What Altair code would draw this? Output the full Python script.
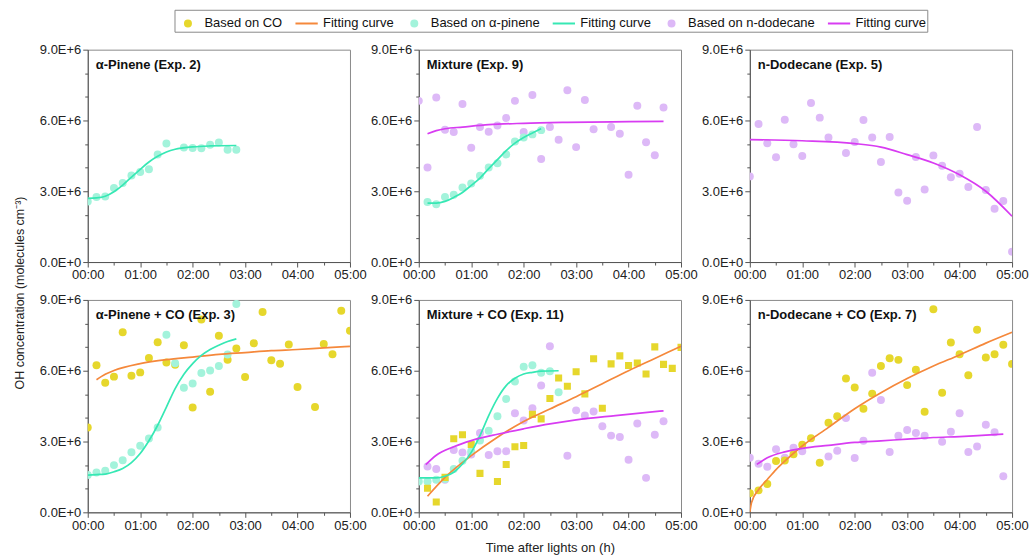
import altair as alt
import pandas as pd

FONT = "Liberation Sans, Arial, sans-serif"

# ---------------- colours ----------------
C_CO_PT, C_CO_LN = "#E6D72C", "#F5883B"
C_AP_PT, C_AP_LN = "#A3F3DB", "#36E8B4"
C_DD_PT, C_DD_LN = "#DDB9F7", "#D83CF2"

# ---------------- axes ----------------
X_TICKS = [0, 0.5, 1, 1.5, 2, 2.5, 3, 3.5, 4, 4.5, 5]
Y_TICKS = [0, 1e6, 2e6, 3e6, 4e6, 5e6, 6e6, 7e6, 8e6, 9e6]

# ---------------- Panel 1: alpha-Pinene (Exp. 2) ----------------
p1_ap_t = [0, 10, 20, 30, 40, 50, 60, 70, 80, 90, 110, 120, 130, 140, 150, 160, 170]
p1_ap_v = [2.57, 2.76, 2.78, 3.14, 3.35, 3.67, 3.82, 3.93, 4.56, 5.02, 4.85, 4.83, 4.82, 4.97, 5.07, 4.76, 4.76]
p1_apfit_t = [0, 10, 20, 30, 40, 50, 60, 70, 80, 90, 100, 120, 140, 170]
p1_apfit_v = [2.70, 2.72, 2.79, 2.98, 3.26, 3.60, 3.93, 4.24, 4.48, 4.66, 4.78, 4.88, 4.92, 4.94]

# ---------------- Panel 2: Mixture (Exp. 9) ----------------
p2_dd_t = [0, 10, 20, 30, 40, 50, 60, 70, 80, 90, 100, 110, 120, 130, 140, 150, 160, 170, 180, 190, 200,
           220, 230, 240, 250, 260, 270, 280]
p2_dd_v = [6.83, 4.01, 6.97, 5.61, 5.51, 6.70, 4.84, 5.72, 5.52, 5.79, 6.10, 6.83, 5.51, 7.08, 4.37, 5.72,
           5.18, 7.28, 4.87, 6.87, 5.63, 5.72, 5.44, 3.70, 6.62, 5.08, 4.53, 6.55]
p2_ap_t = [10, 20, 30, 40, 50, 60, 70, 80, 90, 100, 110, 120, 130, 140]
p2_ap_v = [2.54, 2.45, 2.76, 2.85, 3.16, 3.33, 3.66, 4.01, 4.19, 4.56, 5.11, 5.28, 5.41, 5.59]
p2_apfit_t = [10, 20, 30, 40, 50, 60, 70, 80, 90, 100, 110, 120, 130, 140]
p2_apfit_v = [2.50, 2.50, 2.57, 2.74, 2.95, 3.25, 3.56, 3.96, 4.34, 4.72, 5.04, 5.28, 5.47, 5.65]
p2_ddfit_t = [10, 20, 30, 50, 80, 120, 170, 240, 280]
p2_ddfit_v = [5.44, 5.57, 5.65, 5.72, 5.82, 5.88, 5.92, 5.95, 5.96]

# ---------------- Panel 3: n-Dodecane (Exp. 5) ----------------
p3_dd_t = [0, 10, 20, 30, 40, 50, 60, 70, 80, 90, 110, 120, 130, 140, 150, 160, 170, 180, 190, 200,
           210, 220, 230, 240, 250, 260, 270, 280, 290, 300]
p3_dd_v = [3.63, 5.85, 5.03, 4.44, 6.03, 4.99, 4.49, 6.74, 6.12, 5.28, 4.62, 5.09, 6.02, 5.28, 4.24,
           5.30, 2.95, 2.60, 4.45, 3.07, 4.52, 4.08, 3.59, 3.74, 3.18, 5.72, 3.05, 2.26, 2.59, 0.44]
p3_ddfit_t = [0, 60, 120, 150, 180, 210, 240, 270, 300]
p3_ddfit_v = [5.19, 5.14, 5.02, 4.87, 4.55, 4.20, 3.70, 3.00, 1.94]

# ---------------- Panel 4: alpha-Pinene + CO (Exp. 3) ----------------
p4_co_t = [0, 10, 20, 30, 40, 50, 60, 70, 80, 90, 100, 110, 120, 130, 140, 150, 160, 170, 180, 190,
           200, 210, 220, 230, 240, 260, 270, 280, 290, 300]
p4_co_v = [3.59, 6.23, 5.49, 5.75, 7.63, 5.79, 5.93, 6.54, 7.21, 6.35, 6.25, 7.08, 4.44, 8.17, 5.11,
           7.48, 6.47, 6.94, 5.73, 7.16, 8.49, 6.44, 6.30, 7.11, 5.31, 4.46, 7.13, 6.70, 8.54, 7.69]
p4_ap_t = [0, 10, 20, 30, 40, 50, 60, 70, 80, 90, 100, 110, 120, 130, 140, 150, 160, 170]
p4_ap_v = [1.58, 1.69, 1.76, 2.00, 2.21, 2.55, 2.82, 3.13, 3.59, 7.52, 6.32, 5.28, 5.46, 5.90, 6.01,
           6.20, 6.69, 8.83]
p4_cofit_t = [10, 20, 30, 60, 90, 120, 150, 180, 210, 240, 270, 300]
p4_cofit_v = [5.62, 5.85, 6.01, 6.30, 6.47, 6.58, 6.69, 6.77, 6.85, 6.90, 6.97, 7.03]
p4_apfit_t = [0, 10, 20, 30, 40, 50, 60, 70, 80, 90, 100, 110, 120, 130, 140, 150, 160, 170]
p4_apfit_v = [1.58, 1.60, 1.62, 1.72, 1.86, 2.11, 2.49, 3.03, 3.69, 4.46, 5.24, 5.85, 6.30, 6.65, 6.90,
              7.08, 7.24, 7.35]

# ---------------- Panel 5: Mixture + CO (Exp. 11) ----------------
p5_co_t = [10, 20, 30, 40, 50, 60, 70, 90, 100, 110, 120, 130, 140, 150, 160, 170, 180, 190, 200, 210,
           220, 230, 240, 250, 260, 270, 280, 290, 300]
p5_co_v = [1.02, 0.44, 1.48, 3.12, 3.29, 2.87, 1.65, 1.31, 2.03, 2.78, 2.83, 4.15, 3.96, 4.82, 5.69,
           5.34, 5.96, 5.02, 6.51, 4.41, 6.29, 6.63, 6.22, 6.33, 5.86, 7.01, 6.27, 6.10, 6.99]
p5_dd_t = [10, 20, 30, 40, 50, 60, 70, 80, 90, 100, 110, 120, 130, 140, 150, 170, 180, 190, 200, 210,
           220, 230, 240, 250, 260, 270, 280]
p5_dd_v = [1.94, 1.84, 1.38, 2.64, 2.54, 2.45, 3.36, 2.43, 2.59, 2.59, 4.20, 3.89, 4.41, 5.37, 7.04,
           2.40, 4.32, 4.10, 4.27, 3.65, 3.25, 3.19, 2.23, 3.76, 1.46, 3.29, 3.86]
p5_ap_t = [0, 10, 20, 30, 40, 50, 60, 70, 80, 90, 100, 110, 120, 130, 140, 150, 160]
p5_ap_v = [1.31, 1.31, 1.38, 1.41, 1.84, 2.19, 2.59, 3.04, 3.46, 4.07, 4.80, 5.54, 6.17, 6.23, 5.91,
           5.98, 5.09]
p5_cofit_t = [10, 30, 60, 90, 120, 150, 180, 210, 240, 270, 300]
p5_cofit_v = [0.68, 1.48, 2.40, 3.18, 3.85, 4.38, 4.90, 5.45, 6.00, 6.52, 7.04]
p5_apfit_t = [0, 10, 20, 30, 40, 50, 60, 70, 80, 90, 100, 110, 120, 130, 140, 160]
p5_apfit_v = [1.46, 1.46, 1.46, 1.53, 1.70, 2.05, 2.54, 3.25, 4.10, 4.83, 5.37, 5.68, 5.86, 5.93, 5.98, 6.00]
p5_ddfit_t = [8, 20, 40, 60, 90, 120, 150, 180, 225, 280]
p5_ddfit_v = [2.02, 2.42, 2.78, 3.04, 3.31, 3.54, 3.75, 3.92, 4.10, 4.30]

# ---------------- Panel 6: n-Dodecane + CO (Exp. 7) ----------------
p6_co_t = [0, 10, 20, 30, 40, 50, 60, 70, 80, 90, 100, 110, 120, 130, 140, 150, 160, 170, 180, 190,
           200, 210, 220, 230, 240, 250, 260, 270, 280, 290, 300]
p6_co_v = [0.81, 0.93, 1.20, 2.17, 2.20, 2.46, 2.86, 3.14, 2.10, 3.80, 4.07, 5.67, 5.29, 4.39, 5.03,
           6.20, 6.53, 6.46, 5.39, 6.04, 4.26, 8.61, 5.07, 7.20, 6.70, 5.81, 7.74, 6.56, 6.70, 7.10, 6.29]
p6_dd_t = [0, 10, 20, 30, 40, 50, 60, 90, 100, 110, 120, 130, 140, 150, 160, 170, 180, 190, 200, 220,
           230, 240, 250, 260, 270, 280, 290]
p6_dd_v = [2.31, 2.06, 1.93, 2.67, 2.31, 2.74, 2.59, 2.37, 2.61, 4.00, 2.30, 3.03, 5.91, 4.76, 2.56,
           3.24, 3.49, 3.36, 3.24, 2.99, 3.41, 4.20, 2.56, 2.79, 3.71, 3.39, 1.53]
p6_cofit_t = [0, 2, 10, 20, 30, 40, 60, 90, 120, 150, 180, 210, 240, 270, 300]
p6_cofit_v = [0.0, 0.42, 0.96, 1.39, 1.81, 2.17, 2.81, 3.60, 4.39, 5.07, 5.67, 6.20, 6.67, 7.17, 7.63]
p6_ddfit_t = [8, 20, 40, 60, 90, 120, 150, 180, 210, 240, 270, 290]
p6_ddfit_v = [2.03, 2.31, 2.56, 2.71, 2.84, 2.96, 3.03, 3.10, 3.17, 3.21, 3.27, 3.31]

# ---------------- legend ----------------
leg_keys = ["co_pts", "co_fit", "ap_pts", "ap_fit", "dd_pts", "dd_fit"]
leg_labels = ["Based on CO", "Fitting curve", "Based on \u03b1-pinene", "Fitting curve",
              "Based on n-dodecane", "Fitting curve"]
leg_colors = [C_CO_PT, C_CO_LN, C_AP_PT, C_AP_LN, C_DD_PT, C_DD_LN]
CIRCLE = "M0.27,0A0.27,0.27,0,1,1,-0.27,0A0.27,0.27,0,1,1,0.27,0Z"
LINE = "M-1,0H1"
leg_shapes = [CIRCLE, LINE, CIRCLE, LINE, CIRCLE, LINE]

label_expr = "''"
for k, lab in reversed(list(zip(leg_keys, leg_labels))):
    label_expr = f"datum.label === '{k}' ? '{lab}' : ({label_expr})"

W, H = 263, 213
AX_COL = "#555555"


def x_enc(title=None):
    return alt.X(
        "t:Q",
        scale=alt.Scale(domain=[0, 5], nice=False, zero=False),
        axis=alt.Axis(
            values=X_TICKS,
            labelExpr="datum.value % 1 === 0 ? '0' + datum.value + ':00' : ''",
            tickSize={"condition": {"test": "datum.value % 1 === 0", "value": 5}, "value": 3},
            title=title, labelFlush=False, labelOverlap=False, grid=False,
            labelPadding=2, titlePadding=9, titleFontSize=13, titleFontWeight="normal",
            titleFont=FONT, titleColor="#222",
        ),
    )


def y_enc():
    return alt.Y(
        "v:Q",
        scale=alt.Scale(domain=[0, 9e6], nice=False, zero=False),
        axis=alt.Axis(
            values=Y_TICKS,
            labelExpr="datum.value % 3000000 === 0 ? replace(format(datum.value, '.1e'), 'e', 'E') : ''",
            tickSize={"condition": {"test": "datum.value % 3000000 === 0", "value": 5}, "value": 3},
            title=None, labelFlush=False, labelOverlap=False, grid=False, labelPadding=2,
        ),
    )


def frame(t, v):
    return pd.DataFrame({"t": [x / 60 for x in t], "v": [y * 1e6 for y in v]})


def pts(t, v, color, xt, shape="circle", size=64):
    return alt.Chart(frame(t, v)).mark_point(
        filled=True, shape=shape, size=size, color=color, opacity=1, clip=True, strokeWidth=0
    ).encode(x=x_enc(xt), y=y_enc())


def fit(t, v, color, xt):
    return alt.Chart(frame(t, v)).mark_line(
        color=color, strokeWidth=1.7, interpolate="monotone", clip=True
    ).encode(x=x_enc(xt), y=y_enc())


def label(txt):
    return alt.Chart(pd.DataFrame({"label": [txt]})).mark_text(
        align="left", baseline="middle", fontWeight="bold", fontSize=13, font=FONT, color="#111"
    ).encode(x=alt.value(8), y=alt.value(15), text="label:N")


def legend_layer():
    leg = alt.Legend(
        title=None, orient="none", legendX=87, legendY=-40, direction="horizontal", columns=6,
        strokeColor="#8a8a8a", padding=1, symbolSize=500, symbolStrokeWidth=2,
        labelFontSize=13, labelFont=FONT, labelColor="#111", labelOffset=4, columnPadding=8,
        labelExpr=label_expr, symbolOpacity=1,
    )
    return alt.Chart(pd.DataFrame({"key": leg_keys})).mark_point(
        filled=True, opacity=1, strokeWidth=2
    ).encode(
        fill=alt.Fill("key:N", scale=alt.Scale(domain=leg_keys, range=leg_colors), legend=leg),
        stroke=alt.Stroke("key:N", scale=alt.Scale(domain=leg_keys, range=leg_colors), legend=leg),
        shape=alt.Shape("key:N", scale=alt.Scale(domain=leg_keys, range=leg_shapes), legend=leg),
    ).transform_filter("false")


def panel(layers, title):
    return alt.layer(*layers, label(title)).properties(width=W, height=H)


p1 = panel([pts(p1_ap_t, p1_ap_v, C_AP_PT, None),
            fit(p1_apfit_t, p1_apfit_v, C_AP_LN, None),
            legend_layer()], "\u03b1-Pinene (Exp. 2)")
p2 = panel([pts(p2_dd_t, p2_dd_v, C_DD_PT, None),
            pts(p2_ap_t, p2_ap_v, C_AP_PT, None),
            fit(p2_ddfit_t, p2_ddfit_v, C_DD_LN, None),
            fit(p2_apfit_t, p2_apfit_v, C_AP_LN, None)], "Mixture (Exp. 9)")
p3 = panel([pts(p3_dd_t, p3_dd_v, C_DD_PT, None),
            fit(p3_ddfit_t, p3_ddfit_v, C_DD_LN, None)], "n-Dodecane (Exp. 5)")
p4 = panel([pts(p4_co_t, p4_co_v, C_CO_PT, None),
            pts(p4_ap_t, p4_ap_v, C_AP_PT, None),
            fit(p4_cofit_t, p4_cofit_v, C_CO_LN, None),
            fit(p4_apfit_t, p4_apfit_v, C_AP_LN, None)], "\u03b1-Pinene + CO (Exp. 3)")
XT = "Time after lights on (h)"
p5 = panel([pts(p5_dd_t, p5_dd_v, C_DD_PT, XT),
            pts(p5_ap_t, p5_ap_v, C_AP_PT, XT),
            pts(p5_co_t, p5_co_v, C_CO_PT, XT, shape="square", size=50),
            fit(p5_cofit_t, p5_cofit_v, C_CO_LN, XT),
            fit(p5_apfit_t, p5_apfit_v, C_AP_LN, XT),
            fit(p5_ddfit_t, p5_ddfit_v, C_DD_LN, XT)], "Mixture + CO (Exp. 11)")
p6 = panel([pts(p6_dd_t, p6_dd_v, C_DD_PT, None),
            pts(p6_co_t, p6_co_v, C_CO_PT, None),
            fit(p6_cofit_t, p6_cofit_v, C_CO_LN, None),
            fit(p6_ddfit_t, p6_ddfit_v, C_DD_LN, None)], "n-Dodecane + CO (Exp. 7)")

chart = alt.concat(
    p1, p2, p3, p4, p5, p6, columns=3, spacing={"row": 38, "column": 69}, bounds="flush",
    title=alt.TitleParams(
        "OH concentration (molecules cm\u207b\u00b3)", orient="left", anchor="middle",
        fontSize=12.5, font=FONT, fontWeight="normal", color="#222", offset=12, dx=-11,
    ),
).properties(
    padding={"left": 14, "top": 8, "right": 0, "bottom": 0}
).configure_view(
    stroke="#8a8a8a", strokeWidth=1
).configure_axis(
    domainColor=AX_COL, tickColor=AX_COL, labelColor="#222", labelFont=FONT, labelFontSize=13,
    domainWidth=1, tickWidth=1,
)

chart.save("out.html", embed_options={"renderer": "svg", "actions": False})
